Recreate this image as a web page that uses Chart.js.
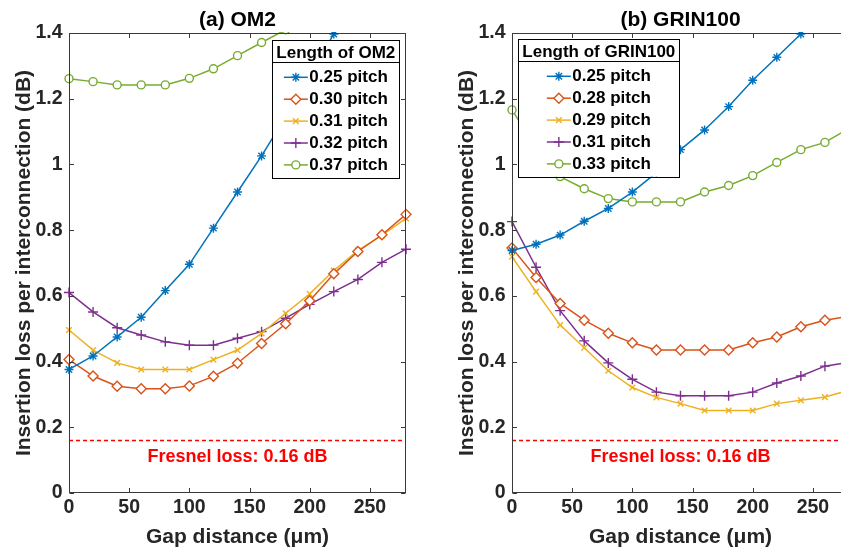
<!DOCTYPE html>
<html><head><meta charset="utf-8">
<script src="https://cdn.jsdelivr.net/npm/chart.js@4"></script>
<style>
html,body{margin:0;padding:0;background:#fff;overflow:hidden;width:841px;height:552px;}
#wrap{position:relative;width:841px;height:552px;overflow:hidden;}
canvas{position:absolute;top:0;}
#c1{left:0}
#c2{left:443px}
</style></head><body><div id="wrap"><canvas id="c1" width="420" height="552"></canvas><canvas id="c2" width="420" height="552"></canvas></div>
<script>
// ---------- data ----------
const gaps = [0,20,40,60,80,100,120,140,160,180,200,220,240,260,280];
const xTicks = [0,50,100,150,200,250];
const yTicks = [0,0.2,0.4,0.6,0.8,1,1.2,1.4];
const yTickLabels = ['0','0.2','0.4','0.6','0.8','1','1.2','1.4'];
const fresnelLoss = 0.16;
const fresnelText = 'Fresnel loss: 0.16 dB';

const om2Title = '(a) OM2';
const om2LegendTitle = 'Length of OM2';
const om2Labels = ['0.25 pitch','0.30 pitch','0.31 pitch','0.32 pitch','0.37 pitch'];
const om2_025 = [0.376,0.417,0.475,0.535,0.616,0.696,0.806,0.916,1.026,1.145,1.270,1.397,null,null,null];
const om2_030 = [0.406,0.356,0.325,0.317,0.317,0.326,0.355,0.395,0.455,0.515,0.585,0.667,0.735,0.786,0.848];
const om2_031 = [0.496,0.435,0.396,0.376,0.376,0.376,0.406,0.435,0.486,0.547,0.606,0.677,0.738,0.784,0.836];
const om2_032 = [0.610,0.551,0.503,0.481,0.460,0.450,0.450,0.471,0.491,0.532,0.574,0.613,0.650,0.702,0.742];
const om2_037 = [1.261,1.252,1.242,1.242,1.242,1.262,1.291,1.331,1.371,1.410,null,null,null,null,null];

const grinTitle = '(b) GRIN100';
const grinLegendTitle = 'Length of GRIN100';
const grinLabels = ['0.25 pitch','0.28 pitch','0.29 pitch','0.31 pitch','0.33 pitch'];
const grin_025 = [0.738,0.757,0.785,0.827,0.866,0.916,0.975,1.045,1.105,1.176,1.256,1.326,1.397,null,null];
const grin_028 = [0.746,0.656,0.577,0.526,0.486,0.457,0.435,0.435,0.435,0.435,0.457,0.475,0.506,0.526,0.538];
const grin_029 = [0.719,0.613,0.511,0.442,0.372,0.321,0.291,0.272,0.251,0.251,0.251,0.272,0.282,0.292,0.313];
const grin_031 = [0.826,0.687,0.555,0.463,0.396,0.346,0.307,0.296,0.296,0.296,0.307,0.335,0.356,0.386,0.398];
const grin_033 = [1.166,1.050,0.963,0.926,0.896,0.886,0.886,0.886,0.916,0.936,0.966,1.006,1.045,1.067,1.110];

const xTitle = 'Gap distance (\u03bcm)';
const yTitle = 'Insertion loss per interconnection (dB)';

// ---------- styles ----------
const colors = ['#0072BD','#D95319','#EDB120','#7E2F8E','#77AC30'];
const markers = ['star','rectRot','crossRot','cross','circle'];
const markerRadius = [4.5,5,4,5,4];
const FONT = '"Liberation Sans", Arial, Helvetica, sans-serif';
Chart.defaults.font.family = FONT;
Chart.defaults.color = '#262626';

function series(values, i, label){
  return {
    label: label,
    data: gaps.map((g,k)=>({x:g, y:values[k]})),
    borderColor: colors[i], backgroundColor: colors[i],
    borderWidth: 1.5, pointStyle: markers[i], pointRadius: markerRadius[i],
    pointBorderWidth: 1.4, pointBorderColor: colors[i], pointBackgroundColor: '#ffffff',
    tension: 0, spanGaps: false, clip: {left: 10, right: 10, top: 1, bottom: 10}
  };
}
function fresnelSet(){
  return {
    label: '_fresnel', isRef: true,
    data: [{x:gaps[0], y:fresnelLoss},{x:gaps[gaps.length-1], y:fresnelLoss}],
    borderColor: '#ff0000', borderWidth: 1.5, borderDash: [4,3], pointRadius: 0, fill: false
  };
}

const framePlugin = {
  id: 'frameTicks',
  afterDatasetsDraw(chart){
    const {ctx, chartArea:a, scales:{x, y}} = chart;
    ctx.save();
    ctx.strokeStyle = '#3a3a3a'; ctx.lineWidth = 1;
    const L = Math.round(a.left)+0.5, R = Math.round(a.right)-0.5, T = Math.round(a.top)+0.5, B = Math.round(a.bottom)-0.5;
    ctx.strokeRect(L, T, R-L, B-T);
    const tl = 4.5;
    ctx.beginPath();
    xTicks.forEach(v=>{ const p = Math.round(x.getPixelForValue(v))+0.5; ctx.moveTo(p,B); ctx.lineTo(p,B-tl); ctx.moveTo(p,T); ctx.lineTo(p,T+tl); });
    yTicks.forEach(v=>{ const p = Math.round(y.getPixelForValue(v))+0.5; ctx.moveTo(L,p); ctx.lineTo(L+tl,p); ctx.moveTo(R,p); ctx.lineTo(R-tl,p); });
    ctx.stroke();
    // Fresnel annotation
    ctx.fillStyle = '#ff0000';
    ctx.font = 'bold 18px ' + FONT;
    ctx.textAlign = 'center'; ctx.textBaseline = 'middle';
    ctx.fillText(fresnelText, x.getPixelForValue(140), y.getPixelForValue(0.11));
    ctx.restore();
  },
  afterDraw(chart, args, opts){
    const {ctx, chartArea:a} = chart;
    const sets = chart.data.datasets.filter(d=>!d.isRef);
    ctx.save();
    ctx.font = 'bold 17px ' + FONT;
    const titleW = ctx.measureText(opts.title).width;
    let textW = 0; sets.forEach(d=>{ textW = Math.max(textW, ctx.measureText(d.label).width); });
    const sampleW = 24, gap = 1.5;
    const entryW = sampleW + gap + textW;
    const w = Math.max(titleW, entryW) + 8;
    const h = 137.7;
    const left = opts.anchor === 'right' ? a.right - 6.7 - w : a.left + 6.3;
    const top = a.top + opts.dy;
    ctx.fillStyle = '#ffffff';
    ctx.fillRect(left, top, w, h);
    ctx.strokeStyle = '#000000'; ctx.lineWidth = 1;
    ctx.strokeRect(Math.round(left)+0.5, Math.round(top)+0.5, Math.round(w), Math.round(h));
    ctx.beginPath(); ctx.moveTo(Math.round(left)+0.5, Math.round(top+21.7)+0.5); ctx.lineTo(Math.round(left+w)+0.5, Math.round(top+21.7)+0.5); ctx.stroke();
    ctx.fillStyle = '#000000'; ctx.textAlign = 'center'; ctx.textBaseline = 'middle';
    ctx.fillText(opts.title, left + w/2, top + 13.3);
    const ex = left + (w - entryW)/2;
    sets.forEach((d,i)=>{
      const cy = top + 37.3 + 21.9*i;
      ctx.strokeStyle = d.borderColor; ctx.lineWidth = 1.5;
      ctx.beginPath(); ctx.moveTo(ex, cy); ctx.lineTo(ex+sampleW, cy); ctx.stroke();
      ctx.fillStyle = '#ffffff'; ctx.strokeStyle = d.borderColor; ctx.lineWidth = 1.4;
      Chart.helpers.drawPoint(ctx, {pointStyle: d.pointStyle, radius: d.pointRadius, borderWidth: 1.4, rotation: 0}, ex + sampleW/2, cy);
      ctx.fillStyle = '#000000'; ctx.textAlign = 'left';
      ctx.fillText(d.label, ex + sampleW + gap, cy + 0.5);
    });
    ctx.restore();
  }
};

function makeChart(id, title, legendTitle, anchor, dy, labels, arrays){
  const datasets = arrays.map((arr,i)=>series(arr, i, labels[i]));
  datasets.push(fresnelSet());
  return new Chart(document.getElementById(id), {
    type: 'line',
    data: { datasets },
    plugins: [framePlugin],
    options: {
      responsive: false, animation: false, devicePixelRatio: 1,
      layout: { padding: {left: 0, right: 14, top: 0, bottom: 0} },
      plugins: {
        legend: {display: false}, tooltip: {enabled: false},
        title: { display: true, text: title, fullSize: false, color: '#000000',
                 font: {size: 21, weight: 'bold', lineHeight: 1.2}, padding: {top: 7.5, bottom: 0.3} },
        frameTicks: { title: legendTitle, anchor: anchor, dy: dy }
      },
      scales: {
        x: {
          type: 'linear', min: 0, max: 280,
          afterBuildTicks: s => { s.ticks = xTicks.map(v=>({value:v})); },
          afterFit: s => { s.height = 59; },
          grid: {display: false, drawTicks: false}, border: {display: false},
          ticks: {padding: 2.5, font: {size: 19.5, weight: 'bold', lineHeight: 1.2}, color: '#262626', maxRotation: 0, autoSkip: false,
                  callback: v => String(v)},
          title: {display: true, text: xTitle, color: '#262626', font: {size: 21, weight: 'bold', lineHeight: 1.2}, padding: {top: 0, bottom: 2.4}}
        },
        y: {
          type: 'linear', min: 0, max: 1.4,
          afterBuildTicks: s => { s.ticks = yTicks.map(v=>({value:v})); },
          afterFit: s => { s.width = 69; },
          grid: {display: false, drawTicks: false}, border: {display: false},
          ticks: {padding: 6.5, font: {size: 19.5, weight: 'bold', lineHeight: 1.2}, color: '#262626', autoSkip: false,
                  callback: (v) => { const k = yTicks.indexOf(v); return k >= 0 ? yTickLabels[k] : String(v); }},
          title: {display: true, text: yTitle, color: '#262626', font: {size: 21, weight: 'bold', lineHeight: 1.2}, padding: {top: 12, bottom: 0}}
        }
      }
    }
  });
}

makeChart('c1', om2Title, om2LegendTitle, 'right', 7, om2Labels, [om2_025, om2_030, om2_031, om2_032, om2_037]);
makeChart('c2', grinTitle, grinLegendTitle, 'left', 6, grinLabels, [grin_025, grin_028, grin_029, grin_031, grin_033]);
</script></body></html>
